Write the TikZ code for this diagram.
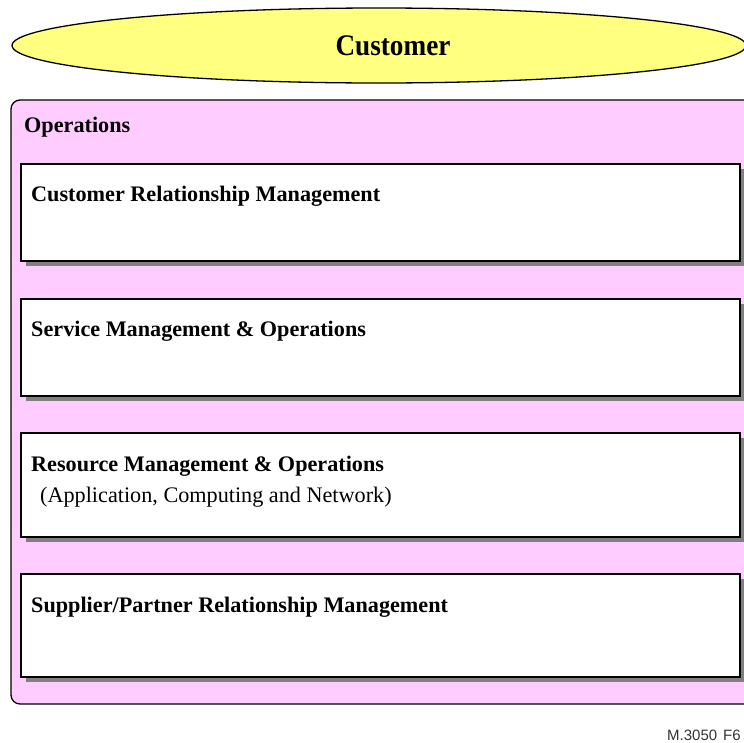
\documentclass[tikz,border=0pt]{standalone}
\usepackage{fontspec}
\setmainfont{Liberation Serif}
\newfontfamily\labelsans{Liberation Sans}
\definecolor{custyellow}{HTML}{FFFF80}
\definecolor{opspink}{HTML}{FFCCFF}
\definecolor{shadowgray}{HTML}{808080}
\begin{document}
\begin{tikzpicture}[x=1pt,y=-1pt,
  boxtitle/.style={anchor=base west,inner sep=0pt,font=\fontsize{22.2}{25}\selectfont\bfseries},
  boxsub/.style={anchor=base west,inner sep=0pt,font=\fontsize{22.2}{25}\selectfont},
  layerbox/.style={draw=black,line width=1.3pt,fill=white},
  layershadow/.style={fill=shadowgray,draw=none}]
\useasboundingbox (0,0) rectangle (744,742);
\clip (0,0) rectangle (744,742);
% customer ellipse
\draw[fill=custyellow,line width=1.3pt] (379,45.5) ellipse [x radius=367,y radius=37.5];
\node[anchor=base,inner sep=0pt,font=\fontsize{27.2}{30}\selectfont\bfseries] (cust) at (393,55) {\scalebox{1}[1.1]{Customer}};
% operations frame
\draw[fill=opspink,line width=1.3pt,rounded corners=9pt] (11,100) rectangle (780,704);
\node[boxtitle] (ops) at (24,132) {Operations};
% layer boxes
\foreach \t/\b/\n in {164/261/a,299/396/b,433/537/c,574/677/d}{
  \fill[layershadow] (26,\t+5) rectangle (745,\b+5);
  \draw[layerbox] (21,\t) rectangle (740,\b);
}
\node[boxtitle] (crm) at (31,201) {Customer Relationship Management};
\node[boxtitle] (smo) at (31,336) {Service Management \& Operations};
\node[boxtitle] (rmo) at (31,471) {Resource Management \& Operations};
\node[boxsub] (rmosub) at (40,502) {(Application, Computing and Network)};
\node[boxtitle] (sprm) at (31,612) {Supplier/Partner Relationship Management};
\node[anchor=base west,inner sep=0pt,font=\labelsans\fontsize{15}{17}\selectfont,text=black!80] (fig) at (667,740) {M.3050\hspace{6pt}F6};
\end{tikzpicture}
\end{document}
